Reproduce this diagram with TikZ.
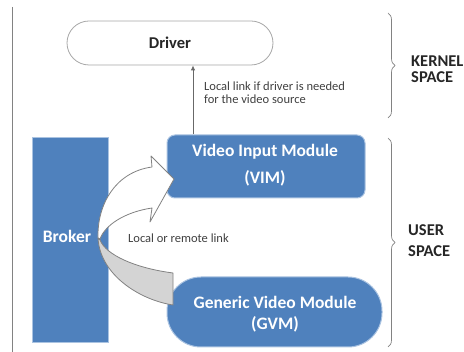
\documentclass[tikz,border=0pt]{standalone}
\usepackage{fontspec}
\setmainfont{Carlito}
\usetikzlibrary{arrows.meta,decorations.pathreplacing}
\definecolor{boxblue}{RGB}{79,129,189}
\definecolor{boxedge}{RGB}{170,195,225}
\definecolor{linegray}{RGB}{130,130,130}
\definecolor{arrgray}{RGB}{212,212,212}
\tikzset{
  bluebox/.style={fill=boxblue, draw=boxedge, line width=1pt, inner sep=0pt},
  boxtext/.style={font=\fontsize{17.5}{20}\selectfont\bfseries, text=white, inner sep=0pt},
  labeltext/.style={font=\fontsize{12.5}{13}\selectfont, text=black!75, inner sep=0pt},
  sidetext/.style={font=\fontsize{16.5}{18}\selectfont\bfseries, text=black!85, inner sep=0pt, anchor=west},
  bracestyle/.style={draw=linegray, line width=0.7pt, decorate, decoration={brace, amplitude=7pt}},
  arrowpart/.style={draw=linegray, line width=0.8pt, line join=round}
}
\begin{document}
\begin{tikzpicture}[x=1pt,y=-1pt]
\useasboundingbox (0,0) rectangle (464,352);
% left border line
\draw[linegray, line width=0.8pt] (12,7) -- (12,352);
% nodes
\node[draw=linegray!70, line width=0.8pt, fill=white, rounded corners=22pt, minimum width=206pt, minimum height=44pt, inner sep=0pt, font=\fontsize{16.5}{18}\selectfont\bfseries, text=black!85] (driver) at (170,43) {Driver};
\node[bluebox, rounded corners=8pt, minimum width=198pt, minimum height=63pt] (vim) at (266,166.5) {};
\node[boxtext] (vimt1) at (265,152) {Video Input Module};
\node[boxtext] (vimt2) at (265,178) {(VIM)};
\node[bluebox, minimum width=76pt, minimum height=205pt] (broker) at (70,240.5) {};
\node[boxtext] (brokert) at (67,236) {Broker};
\node[bluebox, rounded corners=34pt, minimum width=215pt, minimum height=70pt] (gvm) at (274.5,312) {};
\node[boxtext] (gvmt1) at (275,302) {Generic Video Module};
\node[boxtext] (gvmt2) at (275,324) {(GVM)};
% driver link
\coordinate (ax) at (193,0);
\draw[linegray!80!black, line width=0.8pt, -{Latex[length=5pt,width=4.5pt]}] (ax |- vim.north) -- (ax |- driver.south);
\node[labeltext, anchor=north west, align=left] (lbl1) at (204,82) {Local link if driver is needed\\for the video source};
\node[labeltext, anchor=west] (lbl2) at (128,238) {Local or remote link};
% curved block arrow
\path[arrowpart, fill=white] (98,238) .. controls (97,205) and (115,172) .. (152,167) -- (151,156) -- (174,179) -- (150,222) -- (152,208) .. controls (125,212) and (105,225) .. (100,239) -- cycle;
\path[arrowpart, fill=arrgray] (98,238) .. controls (100,275) and (140,300) .. (173,305) -- (173,273) .. controls (135,268) and (106,255) .. (100,240) -- cycle;
% braces
\coordinate (kb1) at (388,13);
\coordinate (kb2) at (388,118);
\coordinate (ub1) at (388,138);
\coordinate (ub2) at (388,347);
\draw[bracestyle] (kb1) -- (kb2);
\draw[bracestyle] (ub1) -- (ub2);
\node[sidetext] (k1) at (411,61.5) {KERNEL};
\node[sidetext] (k2) at (411,77.5) {SPACE};
\node[sidetext] (u1) at (408,230) {USER};
\node[sidetext] (u2) at (408,251) {SPACE};
\end{tikzpicture}
\end{document}
